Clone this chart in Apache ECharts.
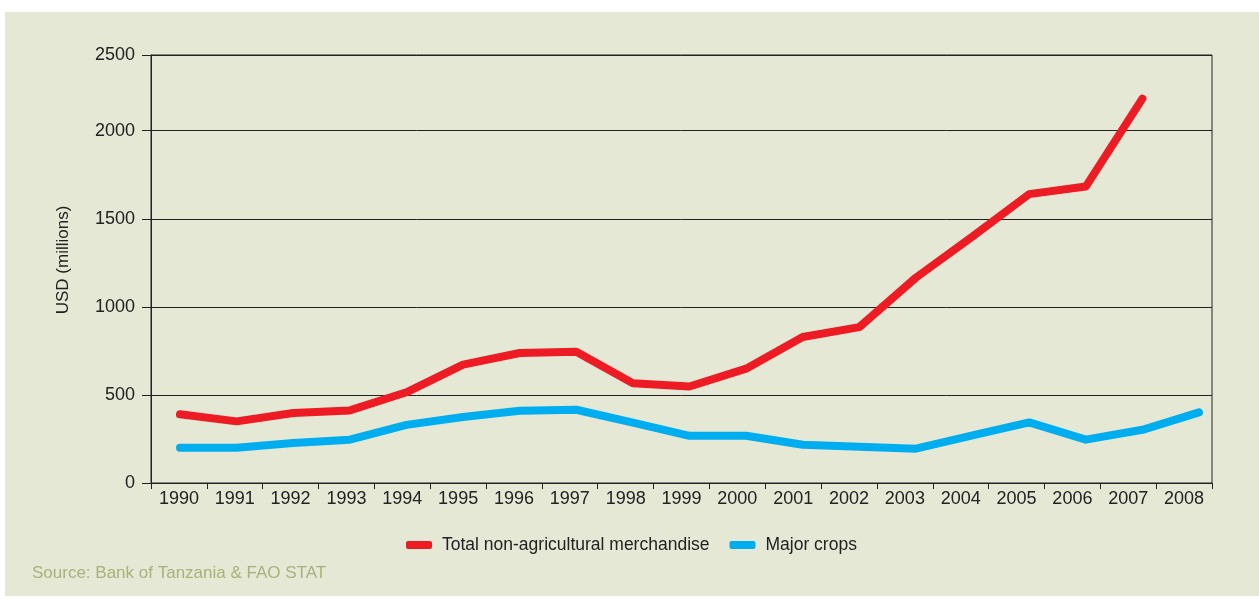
<!DOCTYPE html>
<html>
<head>
<meta charset="utf-8">
<script src="https://cdn.jsdelivr.net/npm/echarts@6/dist/echarts.min.js"></script>
<style>
  html, body { margin: 0; padding: 0; background: #fff; }
  #chart { width: 1259px; height: 606px; }
</style>
</head>
<body>
<div id="chart"></div>
<script>
// years on the category axis
const years = ['1990', '1991', '1992', '1993', '1994', '1995', '1996', '1997', '1998', '1999',
  '2000', '2001', '2002', '2003', '2004', '2005', '2006', '2007', '2008'];
// USD millions
const nonAgri = [390, 350, 397, 412, 515, 672, 738, 745, 567, 548, 649, 829, 885, 1166, 1400, 1640, 1683, 2182, null];
const majorCrops = [200, 200, 227, 246, 330, 375, 410, 416, 343, 268, 268, 217, 206, 195, 270, 344, 246, 302, 401];
// top of the axis sits a little under 2500 in the original, but is labelled 2500
const yMax = 2430;
const yTopLabel = '2500';

const font = '"Liberation Sans", Arial, sans-serif';
const chart = echarts.init(document.getElementById('chart'));

chart.setOption({
  backgroundColor: '#fff',
  animation: false,
  textStyle: { fontFamily: font },
  graphic: [
    { type: 'rect', z: -10, shape: { x: 5, y: 12, width: 1254, height: 584 }, style: { fill: '#e6e8d6' } },
    {
      type: 'text', x: 63, y: 260, rotation: Math.PI / 2,
      style: { text: 'USD (millions)', fill: '#222', font: '17px ' + font, align: 'center', verticalAlign: 'middle' }
    },
    { type: 'text', left: 32, top: 565, style: { text: 'Source: Bank of Tanzania & FAO STAT', fill: '#a7b27a', font: '17px ' + font } }
  ],
  legend: {
    left: 401,
    top: 531,
    icon: 'roundRect',
    itemWidth: 26,
    itemHeight: 8,
    itemGap: 20,
    textStyle: { color: '#222', fontSize: 17.5, fontFamily: font, padding: [0, 0, 0, 5] },
    data: ['Total non-agricultural merchandise', 'Major crops']
  },
  grid: [
    { left: 151, right: 47, top: 55, bottom: 123, show: true, borderColor: '#222', borderWidth: 1, backgroundColor: 'transparent' },
    { left: 180, right: 60, top: 55, bottom: 123 }
  ],
  xAxis: [{
    type: 'category',
    gridIndex: 0,
    data: years,
    boundaryGap: true,
    axisLine: { lineStyle: { color: '#222', width: 1 } },
    axisTick: { show: true, length: 6, lineStyle: { color: '#222' } },
    axisLabel: { color: '#222', fontSize: 18, margin: 7, interval: 0 }
  }, {
    type: 'category',
    gridIndex: 1,
    data: years,
    boundaryGap: false,
    show: false
  }],
  yAxis: [{
    type: 'value',
    gridIndex: 0,
    min: 0,
    max: yMax,
    interval: 500,
    axisLine: { show: true, lineStyle: { color: '#222', width: 1 } },
    axisTick: { show: true, length: 9, lineStyle: { color: '#222' } },
    splitLine: { show: true, lineStyle: { color: '#222', width: 1 } },
    axisLabel: {
      color: '#222',
      fontSize: 18,
      margin: 16,
      formatter: v => v === yMax ? yTopLabel : String(v)
    }
  }, {
    type: 'value',
    gridIndex: 1,
    min: 0,
    max: yMax,
    show: false,
    splitLine: { show: false }
  }],
  series: [{
    name: 'Total non-agricultural merchandise',
    type: 'line',
    xAxisIndex: 1,
    yAxisIndex: 1,
    data: nonAgri,
    showSymbol: false,
    symbol: 'none',
    color: '#ed1c24',
    lineStyle: { width: 8, color: '#ed1c24', cap: 'round', join: 'round' },
    z: 3
  }, {
    name: 'Major crops',
    type: 'line',
    xAxisIndex: 1,
    yAxisIndex: 1,
    data: majorCrops,
    showSymbol: false,
    symbol: 'none',
    color: '#00aeef',
    lineStyle: { width: 8, color: '#00aeef', cap: 'round', join: 'round' },
    z: 2
  }]
});
</script>
</body>
</html>
